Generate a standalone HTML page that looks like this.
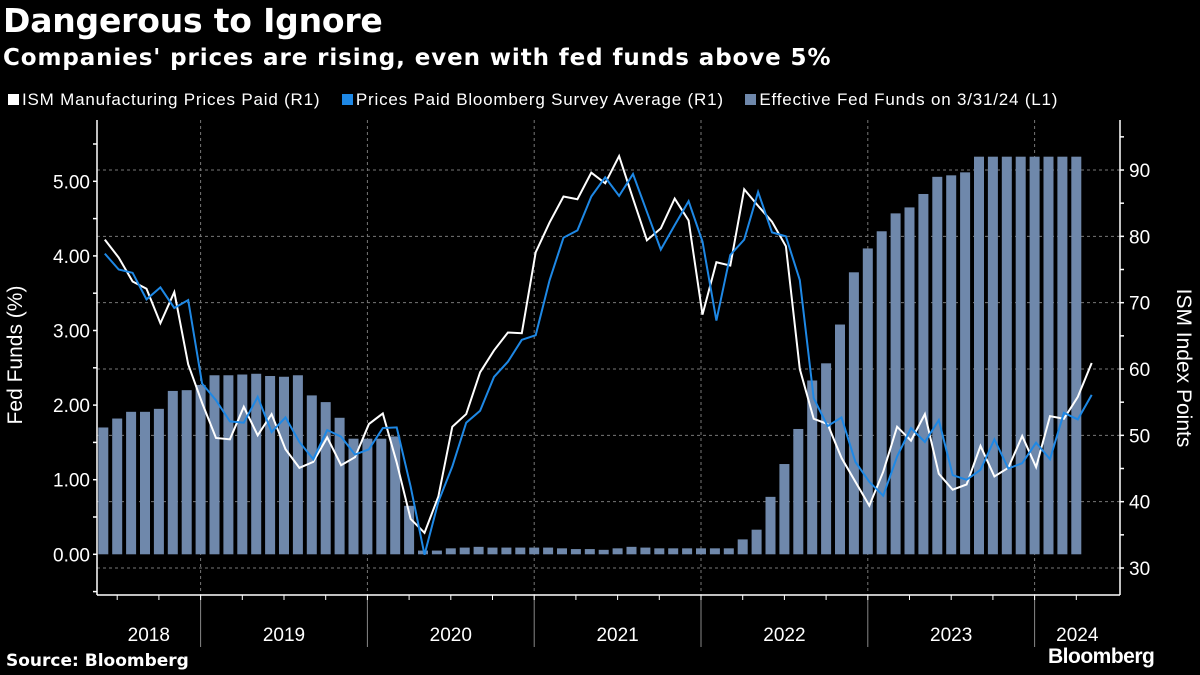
<!DOCTYPE html>
<html><head><meta charset="utf-8">
<style>
body{margin:0;background:#000;width:1200px;height:675px;overflow:hidden;font-family:"Liberation Sans",sans-serif;color:#fff}
.t{position:absolute;white-space:nowrap}
</style></head>
<body>
<div class="t" style="left:3px;top:1px;font:bold 33px 'DejaVu Sans',sans-serif;letter-spacing:-0.2px">Dangerous to Ignore</div>
<div class="t" style="left:3px;top:45px;font:bold 23px 'DejaVu Sans',sans-serif;letter-spacing:0.9px">Companies' prices are rising, even with fed funds above 5%</div>
<div class="t" style="left:8px;top:90px;font-size:17px;letter-spacing:0.8px">
 <span><span style="display:inline-block;width:11px;height:11px;background:#fff;margin-right:3px"></span>ISM Manufacturing Prices Paid (R1)</span>
 <span style="margin-left:16px"><span style="display:inline-block;width:11px;height:11px;background:#1e88e5;margin-right:3px"></span>Prices Paid Bloomberg Survey Average (R1)</span>
 <span style="margin-left:16px"><span style="display:inline-block;width:11px;height:11px;background:#6f88ab;margin-right:3px"></span>Effective Fed Funds on 3/31/24 (L1)</span>
</div>
<svg id="chart" width="1200" height="675" style="position:absolute;left:0;top:0"></svg>
<div class="t" style="left:6px;top:651px;font:bold 17px 'DejaVu Sans',sans-serif">Source: Bloomberg</div>
<div class="t" style="left:1048px;top:645px;font:bold 21px 'Liberation Sans',sans-serif;letter-spacing:-0.5px">Bloomberg</div>
<script>
const fedFunds=[1.70,1.82,1.91,1.91,1.95,2.19,2.20,2.27,
2.40,2.40,2.41,2.42,2.39,2.38,2.40,2.13,2.04,1.83,1.55,1.55,
1.55,1.58,0.65,0.05,0.05,0.08,0.09,0.10,0.09,0.09,0.09,0.09,
0.09,0.08,0.07,0.07,0.06,0.08,0.10,0.09,0.08,0.08,0.08,0.08,
0.08,0.08,0.20,0.33,0.77,1.21,1.68,2.33,2.56,3.08,3.78,4.10,
4.33,4.57,4.65,4.83,5.06,5.08,5.12,5.33,5.33,5.33,5.33,5.33,
5.33,5.33,5.33];
const ism=[79.5,76.8,73.2,72.1,66.9,71.6,60.7,54.9,
49.6,49.4,54.3,50.0,53.2,47.9,45.1,46.0,49.7,45.5,46.7,51.7,
53.3,45.9,37.4,35.3,40.8,51.3,53.2,59.5,62.8,65.5,65.4,77.6,
82.1,86.0,85.6,89.6,88.0,92.1,85.7,79.4,81.2,85.7,82.4,68.2,
76.1,75.6,87.1,84.6,82.2,78.5,60.0,52.5,51.7,46.6,43.0,39.4,
44.5,51.3,49.2,53.2,44.2,41.8,42.6,48.4,43.8,45.1,49.9,45.2,
52.9,52.5,55.8,60.9];
const survey=[77.4,75.0,74.5,70.5,72.3,69.2,70.4,57.8,
55.3,52.1,51.9,55.8,50.5,52.7,49.0,46.4,50.8,49.8,47.1,47.9,
51.1,51.2,42.3,32.0,40.0,45.3,51.9,53.7,58.8,61.1,64.4,65.1,
73.4,79.8,80.9,86.0,88.9,86.1,89.4,83.7,78.0,81.7,85.3,79.2,
67.3,77.2,79.5,86.7,80.6,80.0,73.4,55.6,51.4,52.7,46.0,43.0,
40.9,46.8,51.1,49.0,52.3,44.0,43.3,44.8,49.4,45.0,45.8,48.9,
46.4,53.4,52.4,56.1];
const years=["2018","2019","2020","2021","2022","2023","2024"];
const leftTicks=["0.00","1.00","2.00","3.00","4.00","5.00"];
const rightTicks=["30","40","50","60","70","80","90"];

const svg=document.getElementById('chart');
const NS='http://www.w3.org/2000/svg';
const X0=97,X1=1120,Y0=120,Y1=595;
const xm=i=>103.3+13.9*i;
const yL=v=>554.3-74.6*v;
const yR=v=>568-6.633*(v-30);
function mk(t,a,p){const e=document.createElementNS(NS,t);for(const k in a)e.setAttribute(k,a[k]);(p||svg).appendChild(e);return e;}

rightTicks.forEach(t=>{
 const g=mk('line',{x1:X0,x2:X1,y1:yR(+t),y2:yR(+t),stroke:'#777','stroke-width':1,'stroke-dasharray':'3,3'});
 
 
});
years.forEach((y,k)=>{
 if(k===0)return;
 const idx=7+12*(k-1);
 const x=xm(idx);
 const g=mk('line',{x1:x,x2:x,y1:Y0,y2:Y1,stroke:'#777','stroke-width':1,'stroke-dasharray':'3,3'});
 
 
 const s=mk('line',{x1:x,x2:x,y1:Y1,y2:647,stroke:'#888','stroke-width':1});
 
 
});
fedFunds.forEach((v,i)=>{
 const b=mk('rect',{x:xm(i)-5,y:yL(v),width:10,height:yL(0)-yL(v),fill:'#6f88ab'});
 
 
});
function line(arr,col,name){
 const p=mk('polyline',{points:arr.map((v,i)=>(xm(i)+1.5)+','+yR(v)).join(' '),fill:'none',stroke:col,'stroke-width':2,'stroke-linejoin':'miter'});
 
 
}
line(ism,'#ffffff','line-ism');
line(survey,'#1e88e5','line-survey');
const ax=[[X0,Y0,X0,Y1],[X1,Y0,X1,Y1],[X0,Y1,X1,Y1]];
ax.forEach(a=>{const l=mk('line',{x1:a[0],y1:a[1],x2:a[2],y2:a[3],stroke:'#fff','stroke-width':1.5});
 
 });
for(let v=-0.5;v<=5.51;v+=0.5){const y=yL(v);
 const t=mk('line',{x1:X0-4,x2:X0,y1:y,y2:y,stroke:'#fff','stroke-width':1.5});
 
 }
leftTicks.forEach(s=>{
 const t=mk('text',{x:X0-7,y:yL(+s)+7,'text-anchor':'end','font-size':19,fill:'#fff','font-family':'Liberation Sans, sans-serif'});
 t.textContent=s;
 
 
});
for(let v=30;v<=95;v+=5){const y=yR(v);
 const t=mk('line',{x1:X1,x2:X1+4,y1:y,y2:y,stroke:'#fff','stroke-width':1.5});
 
 }
rightTicks.forEach(s=>{
 const t=mk('text',{x:X1+9,y:yR(+s)+7,'font-size':19,fill:'#fff','font-family':'Liberation Sans, sans-serif'});
 t.textContent=s;
 
 
});
for(let i=1;i<fedFunds.length+1;i++){
 if((i-7)%3!==0)continue;
 const t=mk('line',{x1:xm(i),x2:xm(i),y1:Y1,y2:Y1+5,stroke:'#fff','stroke-width':1});
 
 
}
years.forEach((y,k)=>{
 const s=k===0?X0:xm(7+12*(k-1));
 const e=k===years.length-1?X1:xm(7+12*k);
 const t=mk('text',{x:(s+e)/2,y:641,'text-anchor':'middle','font-size':19,fill:'#fff','font-family':'Liberation Sans, sans-serif'});
 t.textContent=y;
 
 
});
const lt=mk('text',{x:0,y:0,'font-size':21,fill:'#fff','text-anchor':'middle','font-family':'Liberation Sans, sans-serif',transform:'translate(22,355) rotate(-90)'});
lt.textContent='Fed Funds (%)';


const rt=mk('text',{x:0,y:0,'font-size':21,fill:'#fff','text-anchor':'middle','font-family':'Liberation Sans, sans-serif',transform:'translate(1177,368) rotate(90)'});
rt.textContent='ISM Index Points';


</script>
</body></html>
